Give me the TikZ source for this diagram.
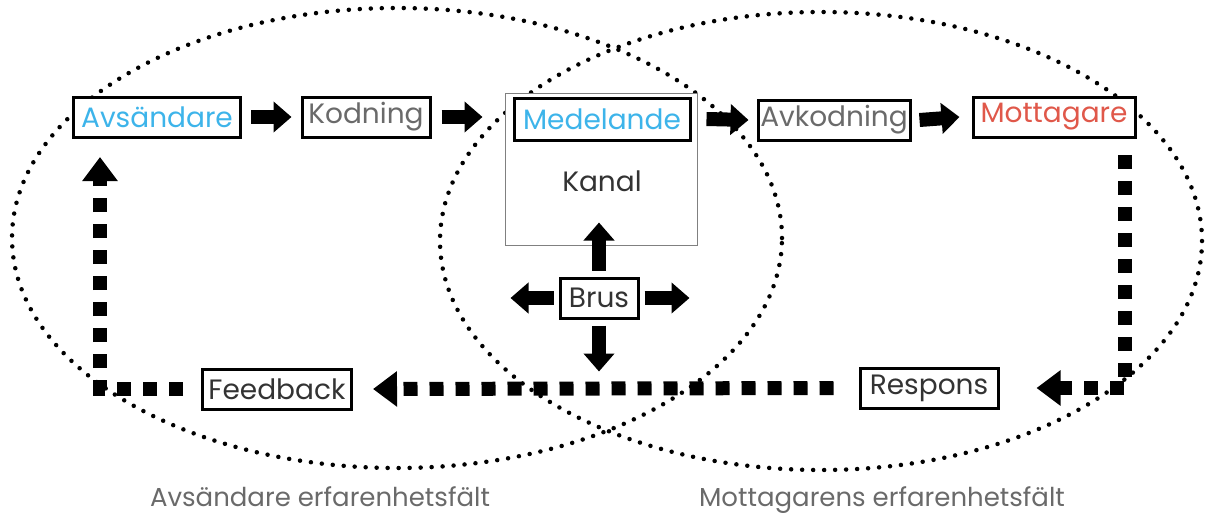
\documentclass[tikz,border=0pt]{standalone}
\usepackage{fontspec}
\setmainfont{Poppins}
\usetikzlibrary{arrows.meta}
\definecolor{sendblue}{HTML}{3DB4EA}
\definecolor{recvred}{HTML}{E0584A}
\definecolor{softgray}{HTML}{6A6A6A}
\definecolor{darktext}{HTML}{333333}
\begin{document}
\begin{tikzpicture}[x=1pt,y=-1pt,
  box/.style={draw,line width=3pt,fill=white,minimum height=40pt,inner sep=2pt,font=\fontsize{28}{32}\selectfont,text=darktext},
  blockarrow/.style={line width=14pt,-{Triangle[width=30pt,length=18pt]}},
  dashline/.style={line width=14pt,dash pattern=on 14pt off 12pt,-{Triangle[width=34pt,length=24pt]}},
  field/.style={line width=4.5pt,line cap=round,dash pattern=on 0pt off 11pt}]
  \useasboundingbox (0,0) rectangle (1209,515);
  \draw[field] (397,238) ellipse [x radius=385pt,y radius=230pt];
  \draw[field] (821,241) ellipse [x radius=381pt,y radius=229pt];
  \node[draw=gray,line width=1pt,fill=white,minimum width=192pt,minimum height=152pt] (kanal) at (601,169) {};
  \node[box,text=sendblue,minimum width=167pt] (avs) at (157,117) {Avsändare};
  \node[box,text=softgray,minimum width=128pt] (kod) at (366,117) {Kodning};
  \node[box,text=sendblue,minimum width=176pt,minimum height=42pt] (med) at (602,119) {Medelande};
  \node[font=\fontsize{28}{32}\selectfont,text=darktext] (kanaltext) at (602,181) {Kanal};
  \node[box,text=softgray,minimum width=152pt] (avk) at (834,120) {Avkodning};
  \node[box,text=recvred,minimum width=162pt] (mott) at (1054,117) {Mottagare};
  \node[box,minimum width=78pt] (brus) at (599,298) {Brus};
  \node[box,minimum width=138pt] (resp) at (929,388) {Respons};
  \node[box,minimum width=149pt] (feed) at (277,389) {Feedback};
  \coordinate (mtop) at (1125,155);
  \coordinate (fcorner) at (100,389);
  \coordinate (ftip) at (100,157);
  \draw[blockarrow] ([xshift=9pt]avs.east) -- ([xshift=-9pt]kod.west);
  \draw[blockarrow] ([xshift=10pt]kod.east) -- ([xshift=-22pt]kod.east -| kanal.west);
  \draw[blockarrow] ([xshift=9pt]kanal.east |- med) -- ([xshift=-8pt]avk.west);
  \draw[blockarrow] ([xshift=8pt]avk.east) -- ([xshift=-12pt]mott.west);
  \draw[blockarrow] ([yshift=6pt]brus.north) -- ++(0,-48);
  \draw[blockarrow] ([xshift=-5pt]brus.west) -- ++(-43,0);
  \draw[blockarrow] ([xshift=5pt]brus.east) -- ++(45,0);
  \draw[blockarrow] ([yshift=-6pt]brus.south) -- ++(0,46);
  \draw[dashline] (mtop) |- ([xshift=37pt]resp.east);
  \draw[dashline] ([xshift=-25pt]resp.west) -- ([xshift=20pt]feed.east);
  \draw[dashline] ([xshift=-18pt]feed.west) -- (fcorner) -- (ftip);
  \node[font=\fontsize{26}{30}\selectfont,text=softgray] (avsfield) at (320,497) {Avsändare erfarenhetsfält};
  \node[font=\fontsize{26}{30}\selectfont,text=softgray] (mottfield) at (882,500) {Mottagarens erfarenhetsfält};
\end{tikzpicture}
\end{document}
